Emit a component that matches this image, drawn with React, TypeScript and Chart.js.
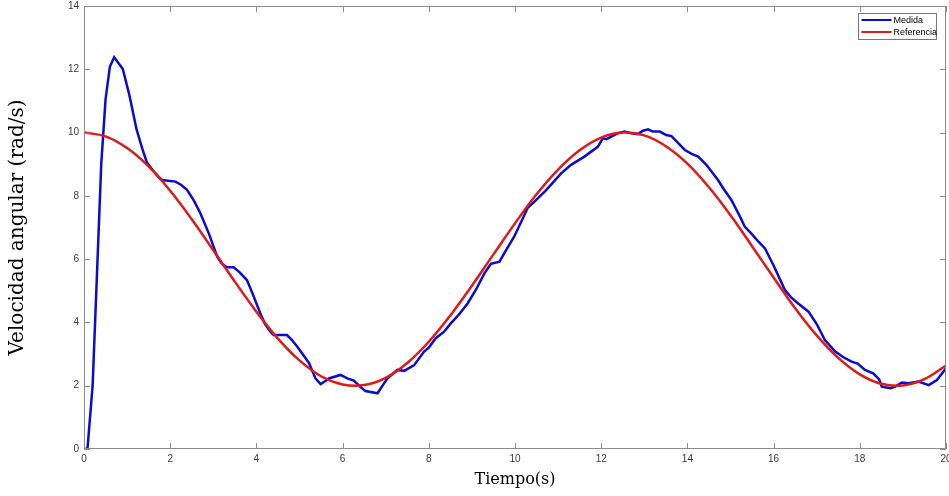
import React, { useEffect, useRef } from "react";
import { Chart, registerables } from "chart.js";

Chart.register(...registerables);

// ---- data ----
const medidaT = [
  0, 0.08, 0.2, 0.3, 0.4, 0.5, 0.6, 0.7, 0.9, 1.05, 1.22, 1.35, 1.46, 1.6, 1.73, 1.81,
  2.12, 2.25, 2.39, 2.55, 2.7, 2.9, 3.09, 3.2, 3.32, 3.47, 3.6, 3.78, 3.9, 4.09, 4.2,
  4.33, 4.4, 4.71, 4.82, 4.95, 5.1, 5.22, 5.37, 5.49, 5.6, 5.68, 5.95, 6.11, 6.26, 6.4,
  6.53, 6.81, 6.95, 7.04, 7.27, 7.43, 7.66, 7.89, 8.0, 8.16, 8.35, 8.51, 8.7, 8.9, 9.1,
  9.29, 9.44, 9.64, 9.8, 9.98, 10.15, 10.29, 10.45, 10.7, 10.9, 11.07, 11.3, 11.61,
  11.92, 12.04, 12.12, 12.39, 12.54, 12.7, 12.85, 12.97, 13.09, 13.2, 13.36, 13.51,
  13.63, 13.8, 13.94, 14.1, 14.25, 14.44, 14.71, 14.85, 15.02, 15.2, 15.33, 15.49,
  15.65, 15.8, 16.0, 16.26, 16.4, 16.57, 16.81, 17.0, 17.19, 17.43, 17.62, 17.81,
  17.95, 18.12, 18.31, 18.45, 18.51, 18.71, 18.82, 18.98, 19.13, 19.36, 19.6, 19.79, 20.0,
];
const medidaV = [
  0, 0, 2.0, 5.5, 9.0, 11.05, 12.08, 12.38, 12.01, 11.2, 10.1, 9.5, 9.05, 8.8, 8.6, 8.5,
  8.45, 8.35, 8.19, 7.85, 7.45, 6.8, 6.08, 5.85, 5.74, 5.74, 5.6, 5.34, 4.95, 4.29, 3.95,
  3.7, 3.6, 3.6, 3.45, 3.23, 2.95, 2.72, 2.23, 2.05, 2.15, 2.23, 2.34, 2.23, 2.16, 1.98,
  1.83, 1.76, 2.05, 2.23, 2.5, 2.47, 2.65, 3.08, 3.2, 3.5, 3.7, 3.97, 4.25, 4.6, 5.05,
  5.55, 5.85, 5.92, 6.3, 6.71, 7.2, 7.61, 7.82, 8.15, 8.45, 8.71, 8.98, 9.24,
  9.55, 9.82, 9.79, 9.98, 10.03, 9.98, 9.95, 10.06, 10.1, 10.03, 10.03, 9.92,
  9.89, 9.65, 9.45, 9.33, 9.24, 8.98, 8.5, 8.2, 7.87, 7.4, 7.03, 6.8,
  6.55, 6.34, 5.8, 5.03, 4.8, 4.6, 4.34, 3.95, 3.44, 3.08, 2.9, 2.76,
  2.7, 2.5, 2.39, 2.2, 1.97, 1.92, 1.97, 2.1, 2.08, 2.13, 2.02, 2.18, 2.55,
];
const referenciaT = [
  0, 0.5, 1, 1.5, 2, 2.5, 3, 3.5, 4, 4.5, 5, 5.5, 6, 6.5, 7, 7.5, 8, 8.5, 9, 9.5, 10,
  10.5, 11, 11.5, 12, 12.5, 13, 13.5, 14, 14.5, 15, 15.5, 16, 16.5, 17, 17.5, 18, 18.5,
  19, 19.5, 20,
];
const referenciaV = [
  10.0, 9.88, 9.51, 8.93, 8.16, 7.26, 6.28, 5.29, 4.34, 3.49, 2.8, 2.3, 2.04, 2.02, 2.25,
  2.72, 3.39, 4.22, 5.16, 6.15, 7.13, 8.05, 8.83, 9.44, 9.84, 10.0, 9.91, 9.57, 9.02,
  8.27, 7.39, 6.41, 5.42, 4.45, 3.59, 2.88, 2.36, 2.06, 2.01, 2.21, 2.64,
];
const seriesLabels = ["Medida", "Referencia"];
const seriesColors = ["#0a0ad2", "#e01818"];
const xTitle = "Tiempo(s)";
const yTitle = "Velocidad angular (rad/s)";
const xRange = [0, 20];
const yRange = [0, 14];
const xStep = 2;
const yStep = 2;

const AXIS_COLOR = "#8c8c8c";
const TICK_FONT = { family: "'Liberation Sans', Arial, sans-serif", size: 10 };
const TITLE_FAMILY = "'DejaVu Serif', serif";

const matlabAxes = {
  id: "matlabAxes",
  afterDatasetsDraw(chart: any) {
    const { ctx, chartArea } = chart;
    const { left, right, top, bottom } = chartArea;
    const xs = chart.scales.x;
    const ys = chart.scales.y;
    const tl = 6;
    ctx.save();
    ctx.strokeStyle = AXIS_COLOR;
    ctx.lineWidth = 1;
    ctx.beginPath();
    ctx.rect(left + 0.5, top + 0.5, right - left - 1, bottom - top - 1);
    ctx.stroke();
    ctx.beginPath();
    xs.ticks.forEach((t: any) => {
      const p = Math.round(xs.getPixelForValue(t.value)) + 0.5;
      ctx.moveTo(p, bottom);
      ctx.lineTo(p, bottom - tl);
      ctx.moveTo(p, top);
      ctx.lineTo(p, top + tl);
    });
    ys.ticks.forEach((t: any) => {
      const p = Math.round(ys.getPixelForValue(t.value)) + 0.5;
      ctx.moveTo(left, p);
      ctx.lineTo(left + tl, p);
      ctx.moveTo(right, p);
      ctx.lineTo(right - tl, p);
    });
    ctx.stroke();

    // legend box (top right, inside the axes)
    const bx = 858.5, by = 13.5, bw = 78, bh = 26;
    ctx.fillStyle = "#ffffff";
    ctx.fillRect(bx, by, bw, bh);
    ctx.strokeStyle = "#777777";
    ctx.strokeRect(bx, by, bw, bh);
    ctx.font = "9px 'Liberation Sans', Arial, sans-serif";
    ctx.textBaseline = "middle";
    ctx.textAlign = "left";
    chart.data.datasets.forEach((ds: any, i: number) => {
      const ly = by + 6.5 + i * 12;
      ctx.strokeStyle = ds.borderColor;
      ctx.lineWidth = 2;
      ctx.beginPath();
      ctx.moveTo(bx + 3, ly);
      ctx.lineTo(bx + 33, ly);
      ctx.stroke();
      ctx.fillStyle = "#000000";
      ctx.fillText(ds.label, bx + 35, ly + 0.5);
    });
    ctx.restore();
  },
};

export default function App() {
  const ref = useRef<HTMLCanvasElement | null>(null);

  useEffect(() => {
    if (!ref.current) return;
    const chart = new Chart(ref.current, {
      type: "line",
      data: {
        datasets: [
          {
            label: seriesLabels[0],
            data: medidaT.map((t, i) => ({ x: t, y: medidaV[i] })),
            borderColor: seriesColors[0],
            borderWidth: 2.5,
            pointRadius: 0,
            tension: 0,
            fill: false,
            order: 1,
          },
          {
            label: seriesLabels[1],
            data: referenciaT.map((t, i) => ({ x: t, y: referenciaV[i] })),
            borderColor: seriesColors[1],
            borderWidth: 2.5,
            pointRadius: 0,
            tension: 0.4,
            fill: false,
            order: 0,
          },
        ],
      },
      options: {
        responsive: false,
        animation: false,
        layout: { padding: { top: 6, right: 3, left: 0, bottom: 0 } },
        plugins: {
          legend: { display: false },
          tooltip: { enabled: false },
        },
        scales: {
          x: {
            type: "linear",
            min: xRange[0],
            max: xRange[1],
            ticks: {
              stepSize: xStep,
              font: TICK_FONT,
              color: "#3a3a3a",
              padding: 4,
              maxRotation: 0,
            },
            grid: { display: false, drawTicks: false },
            border: { display: false },
            title: {
              display: true,
              text: xTitle,
              font: { family: TITLE_FAMILY, size: 16 },
              color: "#000000",
              padding: { top: 0, bottom: 7 },
            },
            afterFit: (s: any) => {
              s.height = 47;
              s.paddingRight = 0;
              s.paddingLeft = 0;
            },
          },
          y: {
            type: "linear",
            min: yRange[0],
            max: yRange[1],
            ticks: {
              stepSize: yStep,
              font: TICK_FONT,
              color: "#3a3a3a",
              padding: 5,
            },
            grid: { display: false, drawTicks: false },
            border: { display: false },
            title: {
              display: true,
              text: yTitle,
              font: { family: TITLE_FAMILY, size: 20 },
              color: "#000000",
              padding: { top: 6, bottom: 0 },
            },
            afterFit: (s: any) => {
              s.width = 84;
              s.paddingTop = 0;
              s.paddingBottom = 0;
            },
          },
        },
      },
      plugins: [matlabAxes],
    });
    return () => chart.destroy();
  }, []);

  return (
    <div style={{ position: "fixed", left: 0, top: 0, width: 949, height: 496, background: "#fff" }}>
      <canvas ref={ref} width={949} height={496} style={{ display: "block" }} />
    </div>
  );
}
